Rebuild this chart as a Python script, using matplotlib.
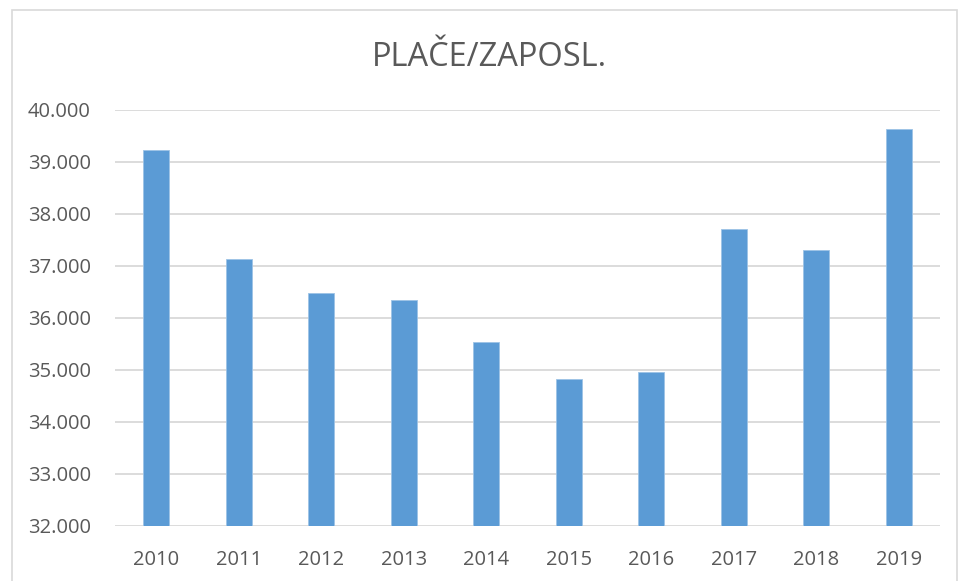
import matplotlib
matplotlib.use('Agg')
from matplotlib import pyplot as plt
from matplotlib.patches import Rectangle
from matplotlib.ticker import FuncFormatter

years = ['2010', '2011', '2012', '2013', '2014', '2015', '2016', '2017', '2018', '2019']
values = [39225, 37130, 36490, 36340, 35530, 34820, 34960, 37710, 37310, 39630]
y_ticks = [32000, 33000, 34000, 35000, 36000, 37000, 38000, 39000, 40000]

plt.rcParams['font.family'] = ['Open Sans', 'DejaVu Sans']
text_col = '#595959'

fig = plt.figure(figsize=(9.6, 5.81), dpi=100)
ax = fig.add_axes([0.1198, 0.0947, 0.979 - 0.1198, 0.8107 - 0.0947])

# chart border (light grey frame as in the original)
fig.patches.append(Rectangle((12 / 960, -0.01), (957 - 12) / 960, 1 - 10 / 581 + 0.01,
                             transform=fig.transFigure, fill=False,
                             edgecolor='#D9D9D9', linewidth=1.2))

ax.bar(range(len(years)), values, width=0.315, color='#5B9BD5',
       edgecolor='#9DC3E6', linewidth=0.6, zorder=3)

ax.set_ylim(32000, 40000)
ax.set_xlim(-0.5, len(years) - 0.5)
ax.set_yticks(y_ticks)
ax.yaxis.set_major_formatter(FuncFormatter(lambda v, p: f'{int(v):,}'.replace(',', '.')))
ax.set_xticks(range(len(years)))
ax.set_xticklabels(years)

ax.grid(axis='y', color='#D9D9D9', linewidth=1.3, zorder=0)
for s in ax.spines.values():
    s.set_visible(False)
ax.tick_params(length=0, labelsize=14.5, colors=text_col)
ax.tick_params(axis='y', pad=17.5)
ax.tick_params(axis='x', pad=17)

fig.text(489 / 960, 1 - 58 / 581, 'PLAČE/ZAPOSL.', ha='center', va='center',
         fontsize=23.5, color=text_col)

plt.savefig('out.png', dpi=100)
